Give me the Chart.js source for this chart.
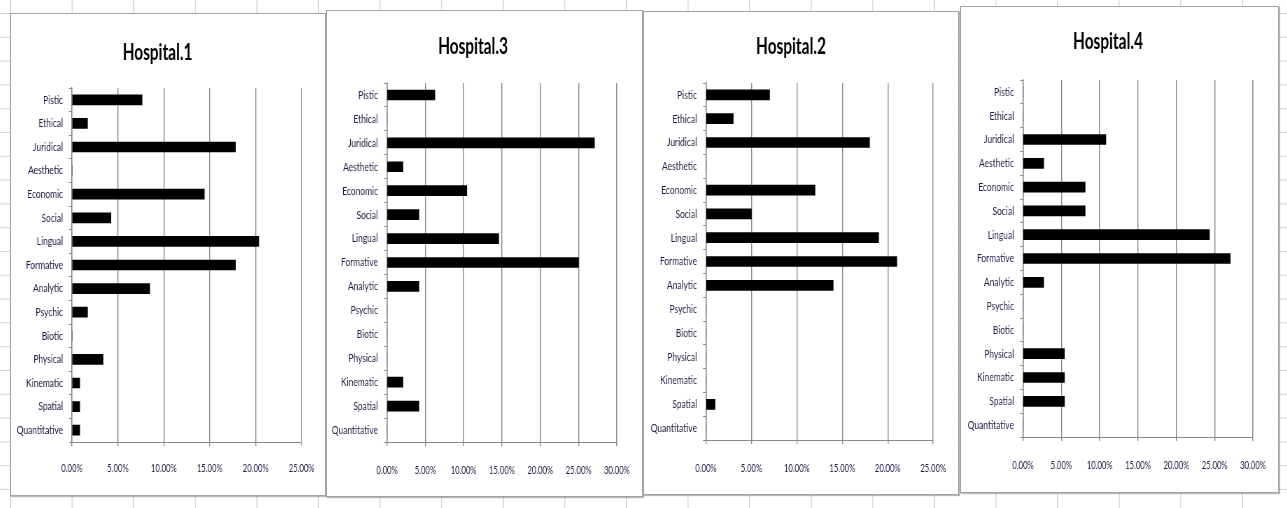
<!DOCTYPE html>
<html>
<head>
<meta charset="utf-8">
<title>Hospitals</title>
<script src="https://cdn.jsdelivr.net/npm/chart.js@4.4.1/dist/chart.umd.min.js"></script>
<style>
  html, body { margin: 0; padding: 0; }
  body {
    width: 1287px; height: 508px; position: relative; overflow: hidden;
    background-color: #fff;
    /* worksheet cell grid behind the charts */
    background-image:
      linear-gradient(to right, #d4d4d4 1px, transparent 1px),
      linear-gradient(to bottom, #d4d4d4 1px, transparent 1px);
    background-size: 61.6px 23.8px;
    background-position: 10px 13px;
  }
  .panel {
    position: absolute; box-sizing: border-box;
    border: 1px solid #a3a3a3; background: #fff;
    box-shadow: 1px 1px 1px rgba(0, 0, 0, 0.28);
    overflow: hidden;
  }
  .squeeze { position: absolute; left: 0; top: 0; transform-origin: 0 0; }
</style>
</head>
<body>
<script>
// Aspects (top to bottom)
const categories = ['Pistic', 'Ethical', 'Juridical', 'Aesthetic', 'Economic', 'Social', 'Lingual',
  'Formative', 'Analytic', 'Psychic', 'Biotic', 'Physical', 'Kinematic', 'Spatial', 'Quantitative'];

// Share of each aspect, in percent
const hospital1 = [7.63, 1.69, 17.80, 0, 14.41, 4.24, 20.34, 17.80, 8.47, 1.69, 0, 3.39, 0.85, 0.85, 0.85];
const hospital3 = [6.25, 0, 27.08, 2.08, 10.42, 4.17, 14.58, 25.00, 4.17, 0, 0, 0, 2.08, 4.17, 0];
const hospital2 = [7, 3, 18, 0, 12, 5, 19, 21, 14, 0, 0, 0, 0, 1, 0];
const hospital4 = [0, 0, 10.81, 2.70, 8.11, 8.11, 24.32, 27.03, 2.70, 0, 0, 5.41, 5.41, 5.41, 0];

// Value axis ticks (percent)
const ticksTo25 = [0, 5, 10, 15, 20, 25];
const ticksTo30 = [0, 5, 10, 15, 20, 25, 30];

// Charts are drawn wide and squeezed horizontally, giving the condensed lettering
const SX = 0.7;
const GRID = '#8a8a8a';
const LABEL = '#1c1c44';

function addPanel(box, plot, titleY, tickY, title, values, ticks) {
  const div = document.createElement('div');
  div.className = 'panel';
  Object.assign(div.style, { left: box.l + 'px', top: box.t + 'px', width: box.w + 'px', height: box.h + 'px' });
  const cw = box.w - 2, ch = box.h - 2;
  const innerW = Math.round(cw / SX);
  const inner = document.createElement('div');
  inner.className = 'squeeze';
  inner.style.width = innerW + 'px';
  inner.style.height = ch + 'px';
  inner.style.transform = 'scaleX(' + SX + ')';
  const canvas = document.createElement('canvas');
  inner.appendChild(canvas);
  div.appendChild(inner);
  document.body.appendChild(div);

  const ox = box.l + 1, oy = box.t + 1;
  const pl = (plot.l - ox) / SX, pr = (plot.r - ox) / SX;
  const pt = plot.t - oy, pb = plot.b - oy;

  const titleSize = 22, titleLH = titleSize * 1.2;
  const titlePadTop = titleY - oy - titleLH / 2;
  const titlePadBottom = pt - titlePadTop - titleLH;

  const tickSize = 11, tickLH = tickSize * 1.2, xTickLen = 4;
  const xTickPad = (tickY - plot.b) - xTickLen - tickLH / 2;

  new Chart(canvas, {
    type: 'bar',
    data: {
      labels: categories,
      datasets: [{ data: values, backgroundColor: '#000', borderWidth: 0, barThickness: 10 }]
    },
    options: {
      indexAxis: 'y',
      responsive: true,
      maintainAspectRatio: false,
      animation: false,
      layout: { padding: { left: 0, top: 0, bottom: 0, right: innerW - pr } },
      plugins: {
        legend: { display: false },
        tooltip: { enabled: false },
        title: {
          display: true, text: title, color: '#000',
          font: { family: 'Lato', size: titleSize, weight: 'bold', lineHeight: 1.2 },
          padding: { top: titlePadTop, bottom: titlePadBottom }
        }
      },
      scales: {
        x: {
          min: ticks[0], max: ticks[ticks.length - 1],
          afterBuildTicks: s => { s.ticks = ticks.map(v => ({ value: v })); },
          ticks: {
            callback: v => Number(v).toFixed(2) + '%',
            color: LABEL, font: { family: 'Lato', size: tickSize, lineHeight: 1.2 },
            padding: xTickPad, maxRotation: 0, autoSkip: false
          },
          grid: { color: GRID, lineWidth: 1 / SX, drawTicks: true, tickLength: xTickLen },
          border: { color: GRID, width: 1 },
          afterFit: s => { s.height = ch - pb; }
        },
        y: {
          ticks: {
            color: LABEL, font: { family: 'Lato', size: 12, lineHeight: 1.2 },
            padding: 6 / SX, autoSkip: false
          },
          grid: { drawOnChartArea: false, color: GRID, lineWidth: 1, tickLength: 3 / SX, offset: true },
          border: { color: GRID, width: 1 / SX },
          afterFit: s => { s.width = pl; }
        }
      }
    }
  });
}

addPanel({ l: 10, t: 13, w: 316, h: 483 }, { l: 72, r: 304, t: 88, b: 442 }, 53, 468, 'Hospital.1', hospital1, ticksTo25);
addPanel({ l: 326, t: 10, w: 317, h: 487 }, { l: 387, r: 619, t: 83, b: 442 }, 47, 470, 'Hospital.3', hospital3, ticksTo30);
addPanel({ l: 643, t: 11, w: 316, h: 484 }, { l: 706, r: 938, t: 83, b: 440 }, 47, 468, 'Hospital.2', hospital2, ticksTo25);
addPanel({ l: 960, t: 6, w: 319, h: 487 }, { l: 1023, r: 1255, t: 80, b: 437 }, 42, 465, 'Hospital.4', hospital4, ticksTo30);
</script>
</body>
</html>
